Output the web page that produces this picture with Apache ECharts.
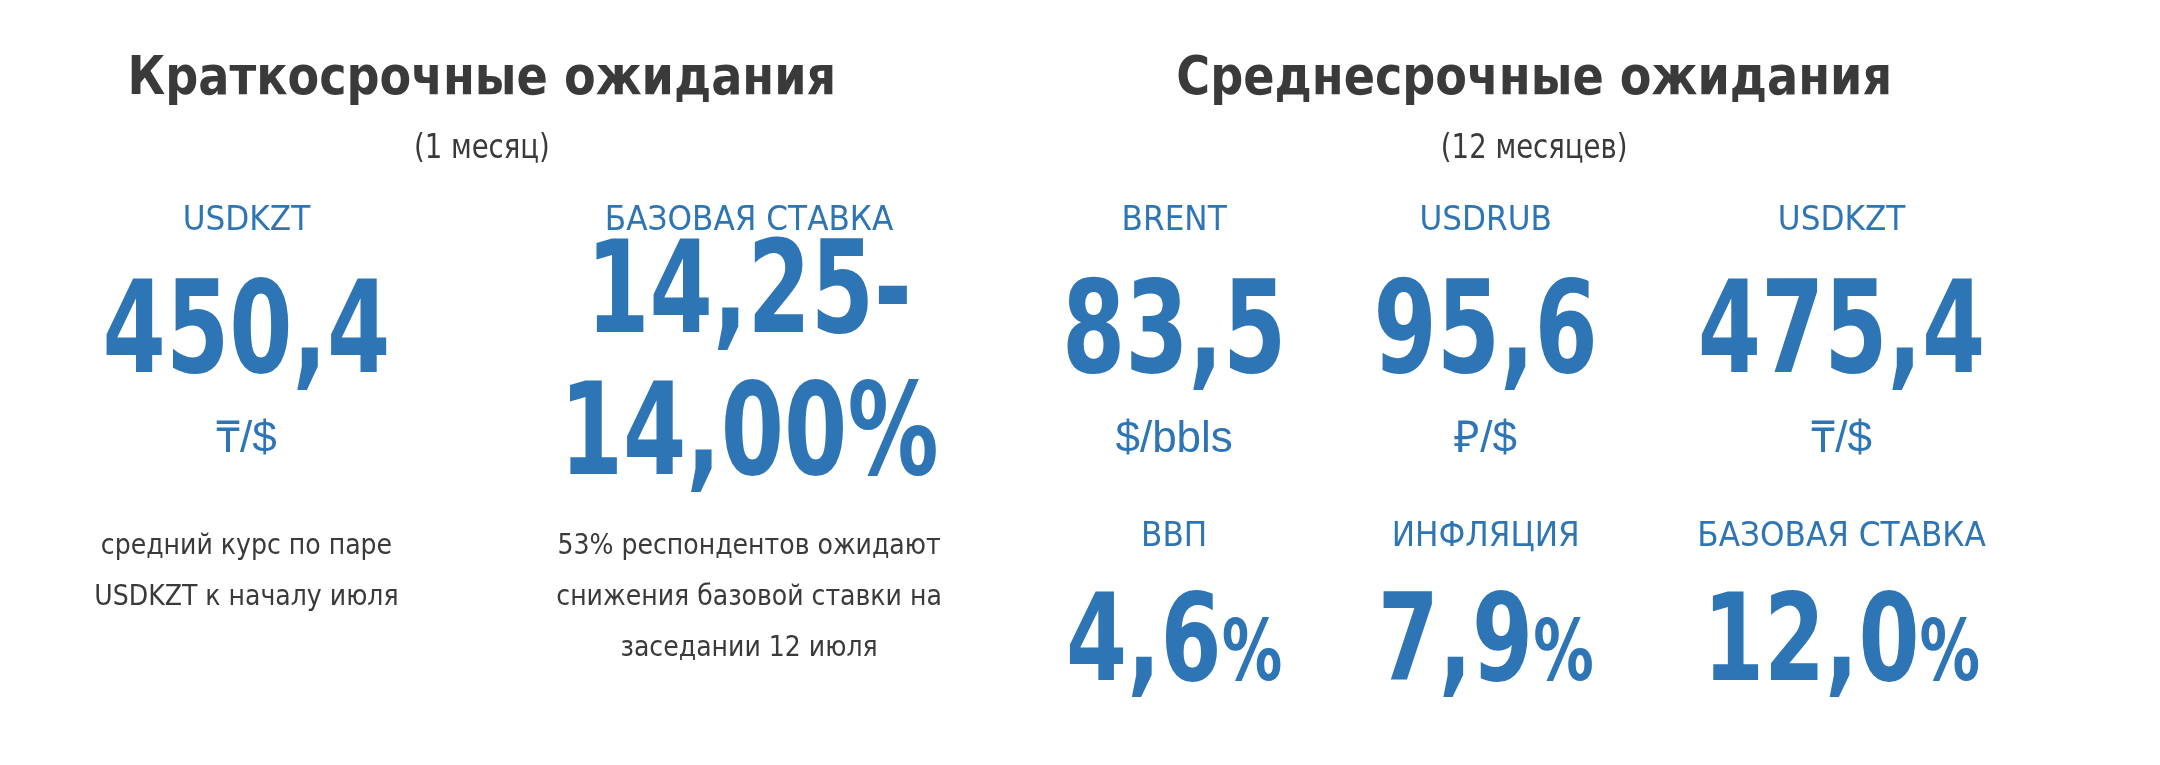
<!DOCTYPE html>
<html><head><meta charset="utf-8">
<script src="https://cdn.jsdelivr.net/npm/echarts@6/dist/echarts.min.js"></script>
<style>html,body{margin:0;background:#fff}#c{width:2160px;height:765px}</style>
</head><body><div id="c"></div>
<script>
const titles = ["Краткосрочные ожидания", "Среднесрочные ожидания"];
const subtitles = ["(1 месяц)", "(12 месяцев)"];
const shortLabels = ["USDKZT", "БАЗОВАЯ СТАВКА"];
const shortValues = ["450,4", "14,25-\n14,00%"];
const shortUnits = ["₸/$", ""];
const shortNotes = ["средний курс по паре\nUSDKZT к началу июля", "53% респондентов ожидают\nснижения базовой ставки на\nзаседании 12 июля"];
const midLabels = ["BRENT", "USDRUB", "USDKZT"];
const midValues = ["83,5", "95,6", "475,4"];
const midUnits = ["$/bbls", "₽/$", "₸/$"];
const midLabels2 = ["ВВП", "ИНФЛЯЦИЯ", "БАЗОВАЯ СТАВКА"];
const midValues2 = ["4,6", "7,9", "12,0"];

const s = 2160/1560;
const BLUE = "#2e75b6", DARK = "#3a3a3a";
const F = "'DejaVu Sans Condensed','DejaVu Sans',sans-serif";
const els = [];
function t(x, y, text, size, color, weight, font, extra, sx) {
  els.push({type:'text', x:x*s, y:y*s, scaleX:sx||1, style:Object.assign({text, fontSize:size, fill:color, fontWeight:weight||'normal', fontFamily:font||F, align:'center', verticalAlign:'middle', lineHeight:size*1.28}, extra||{})});
}
t(348, 58, titles[0], 54, DARK, 'bold', F, null, 0.95);
t(1108, 58, titles[1], 54, DARK, 'bold', F, null, 0.95);
t(348, 108, subtitles[0], 34, DARK, 'normal', F, null, 0.9);
t(1108, 108, subtitles[1], 34, DARK, 'normal', F, null, 0.9);
const sx = [178, 541];
shortLabels.forEach((l,i)=>t(sx[i], 160, l, 33, BLUE, 'normal', F, null, 1.05));
t(sx[0], 245, shortValues[0], 128, BLUE, 'bold', F, null, 0.79);
t(sx[1], 267, shortValues[1], 128, BLUE, 'bold', F, {lineHeight:142}, 0.79);
t(sx[0], 318, shortUnits[0], 44, BLUE, 'normal', "'Liberation Sans',sans-serif");
t(sx[0], 413, shortNotes[0], 28, DARK, 'normal', F, {lineHeight:51});
t(sx[1], 432, shortNotes[1], 28, DARK, 'normal', F, {lineHeight:51});
const mx = [848, 1073, 1330];
midLabels.forEach((l,i)=>t(mx[i], 160, l, 33, BLUE, 'normal', F, null, 1.05));
midValues.forEach((v,i)=>t(mx[i], 245, v, 128, BLUE, 'bold', F, null, 0.79));
midUnits.forEach((u,i)=>t(mx[i], 318, u, 44, BLUE, 'normal', "'Liberation Sans',sans-serif"));
midLabels2.forEach((l,i)=>t(mx[i], 388, l, 33, BLUE, 'normal', F, null, 1.05));
midValues2.forEach((v,i)=>els.push({type:'text', x:mx[i]*s, y:468*s, scaleX:0.8, style:{
  text:'{a|'+v+'}{b|%}', align:'center', verticalAlign:'middle',
  rich:{a:{fontSize:122, fontWeight:'bold', fill:BLUE, fontFamily:F}, b:{fontSize:84, fontWeight:'bold', fill:BLUE, fontFamily:F, padding:[20,0,0,0]}}
}}));
const chart = echarts.init(document.getElementById('c'));
chart.setOption({backgroundColor:'#fff', graphic:{elements:els}});
</script></body></html>
